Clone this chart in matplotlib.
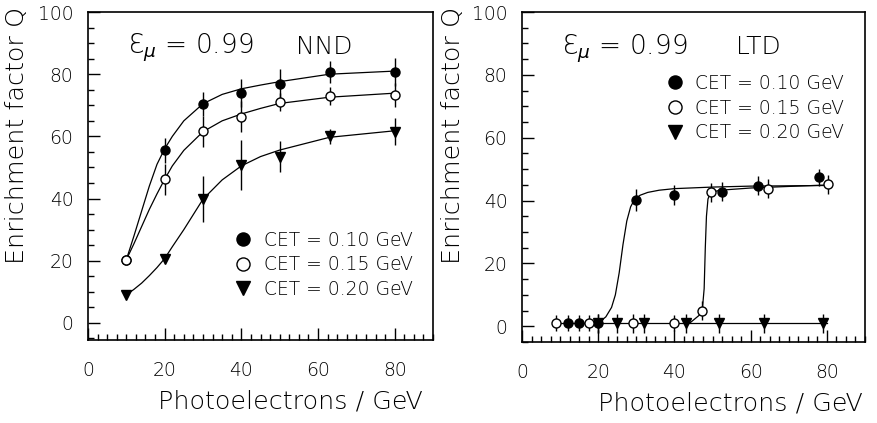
import matplotlib
matplotlib.use('Agg')
import matplotlib.pyplot as plt
from matplotlib.ticker import MultipleLocator

plt.rcParams['font.family'] = ['DejaVu Sans']
plt.rcParams['font.weight'] = 'light'
plt.rcParams['axes.labelweight'] = 'light'

# NND panel: enrichment factor vs photoelectrons / GeV
nnd_x = [10, 20, 30, 40, 50, 63, 80]
nnd_q010 = [20.3, 55.5, 70.4, 74.1, 76.7, 80.6, 80.6]
nnd_e010 = [1, 4, 4, 4.5, 5, 3.5, 4.5]
nnd_q015 = [20.3, 46.2, 61.7, 66.3, 71.1, 73.0, 73.3]
nnd_e015 = [1, 5, 5, 5, 3, 3, 4]
nnd_q020 = [9, 20.7, 39.8, 50.8, 53.5, 60.0, 61.5]
nnd_e020 = [1, 1, 7.5, 8, 5, 2.5, 4.3]

# fitted curves
nnd_fit_x = [10, 12, 14, 16, 18, 20, 22, 25, 30, 35, 40, 45, 50, 63, 80]
nnd_fit_010 = [20.3, 28, 36, 44, 51, 56, 60, 65, 70.5, 73.5, 75.3, 76.5, 77.6, 80, 81]
nnd_fit_015 = [20.3, 25.5, 31, 36.5, 41.5, 46.2, 50.5, 55.5, 61.5, 65, 67.2, 69, 70.6, 72.6, 73.9]
nnd_fit_020 = [9, 10.8, 12.8, 15.2, 17.8, 20.7, 24.5, 30, 39.8, 46, 50.5, 53.5, 55.6, 59.7, 61.8]

# LTD panel
ltd_x010 = [12, 15, 20, 30, 40, 52.5, 62, 78]
ltd_q010 = [1, 1, 1, 40.3, 41.7, 42.8, 44.7, 47.4]
ltd_e010 = [2.5, 2.5, 3, 3.5, 3.2, 3, 3, 2.7]
ltd_x015 = [9, 17.5, 29, 40, 47.3, 49.5, 64.5, 80.2]
ltd_q015 = [1, 1, 1, 1, 5, 42.6, 43.8, 45.2]
ltd_e015 = [2.5, 2.5, 3, 2.5, 3, 3, 3, 3]
ltd_x020 = [20, 25, 32, 43, 51.7, 63.6, 79.1]
ltd_q020 = [1.0, 1.0, 1.0, 1.0, 1.0, 1.0, 1.0]
ltd_e020 = [3, 3, 3, 3, 3, 3, 3]

ltd_fit_x010 = [20, 22, 23.5, 24.5, 25.5, 26.5, 27.5, 28.5, 29.5, 31, 33, 36, 40, 50, 60, 80]
ltd_fit_010 = [1, 3, 6, 10, 17, 26, 33.5, 38, 40.3, 41.7, 42.6, 43.3, 43.8, 44.3, 44.6, 44.8]
ltd_fit_x015 = [44, 46.5, 47.3, 47.8, 48.1, 48.4, 48.8, 49.5, 52, 60, 70, 81]
ltd_fit_015 = [1, 3.5, 5, 12, 25, 35, 40.5, 42.6, 43.3, 44, 44.5, 45]
ltd_fit_x020 = [9, 80]
ltd_fit_020 = [1, 1]

cet_labels = ['CET = 0.10 GeV', 'CET = 0.15 GeV', 'CET = 0.20 GeV']

fig = plt.figure(figsize=(8.77, 4.23), dpi=100)
ax1 = fig.add_axes([0.1003, 0.1962, 0.3935, 0.7754])
ax2 = fig.add_axes([0.5952, 0.1915, 0.3911, 0.7801])

styles = [dict(marker='o', color='black', mfc='black', mec='black'),
          dict(marker='o', color='black', mfc='white', mec='black'),
          dict(marker='v', color='black', mfc='black', mec='black')]


def panel(ax, xs, qs, es, fx, fq, tag, tag_x, ylim, leg_xy):
    for fxx, fqq in zip(fx, fq):
        ax.plot(fxx, fqq, color='black', lw=0.9)
    for i in range(3):
        ax.errorbar(xs[i], qs[i], yerr=es[i], fmt='none', ecolor='black', elinewidth=1.0)
        ax.plot(xs[i], qs[i], ls='none', ms=6.5, mew=1.0, label=cet_labels[i], **styles[i])
    ax.set_xlim(0, 90)
    ax.set_ylim(*ylim)
    ax.xaxis.set_major_locator(MultipleLocator(20))
    ax.xaxis.set_minor_locator(MultipleLocator(2.5))
    ax.yaxis.set_major_locator(MultipleLocator(20))
    ax.yaxis.set_minor_locator(MultipleLocator(5))
    ax.tick_params(which='both', direction='in', top=False, right=False, labelsize=13.5)
    ax.tick_params(which='major', length=8.5, width=1.0)
    ax.tick_params(which='minor', length=4.5, width=1.0)
    ax.tick_params(axis='x', which='major', pad=15)
    ax.tick_params(axis='y', which='major', pad=10.5)
    for s in ax.spines.values():
        s.set_linewidth(1.2)
    ax.set_xlabel('Photoelectrons / GeV', fontsize=18.3, loc='right')
    ax.set_ylabel('Enrichment factor Q', fontsize=18.3, loc='top')
    ax.text(10.4, 86.5, r'Ɛ$_{\mu}$ = 0.99', fontsize=19, va='baseline')
    ax.text(tag_x, 86.5, tag, fontsize=18, va='baseline')
    ax.legend(loc='upper left', bbox_to_anchor=leg_xy, frameon=False, fontsize=13.5,
              markerscale=1.45, handlelength=1.0, handletextpad=0.6,
              labelspacing=0.3, borderpad=0, borderaxespad=0)


panel(ax1, [nnd_x] * 3, [nnd_q010, nnd_q015, nnd_q020], [nnd_e010, nnd_e015, nnd_e020],
      [nnd_fit_x] * 3, [nnd_fit_010, nnd_fit_015, nnd_fit_020], 'NND', 54.2, (-5.5, 100),
      (0.4227, 0.333))
panel(ax2, [ltd_x010, ltd_x015, ltd_x020], [ltd_q010, ltd_q015, ltd_q020],
      [ltd_e010, ltd_e015, ltd_e020],
      [ltd_fit_x010, ltd_fit_x015, ltd_fit_x020], [ltd_fit_010, ltd_fit_015, ltd_fit_020],
      'LTD', 56.2, (-5, 100), (0.418, 0.812))

ax1.xaxis.set_label_coords(0.97, -0.15)
ax1.yaxis.set_label_coords(-0.172, 1.015)
ax2.xaxis.set_label_coords(0.993, -0.15)
ax2.yaxis.set_label_coords(-0.165, 1.015)

fig.savefig('out.png', dpi=100)
